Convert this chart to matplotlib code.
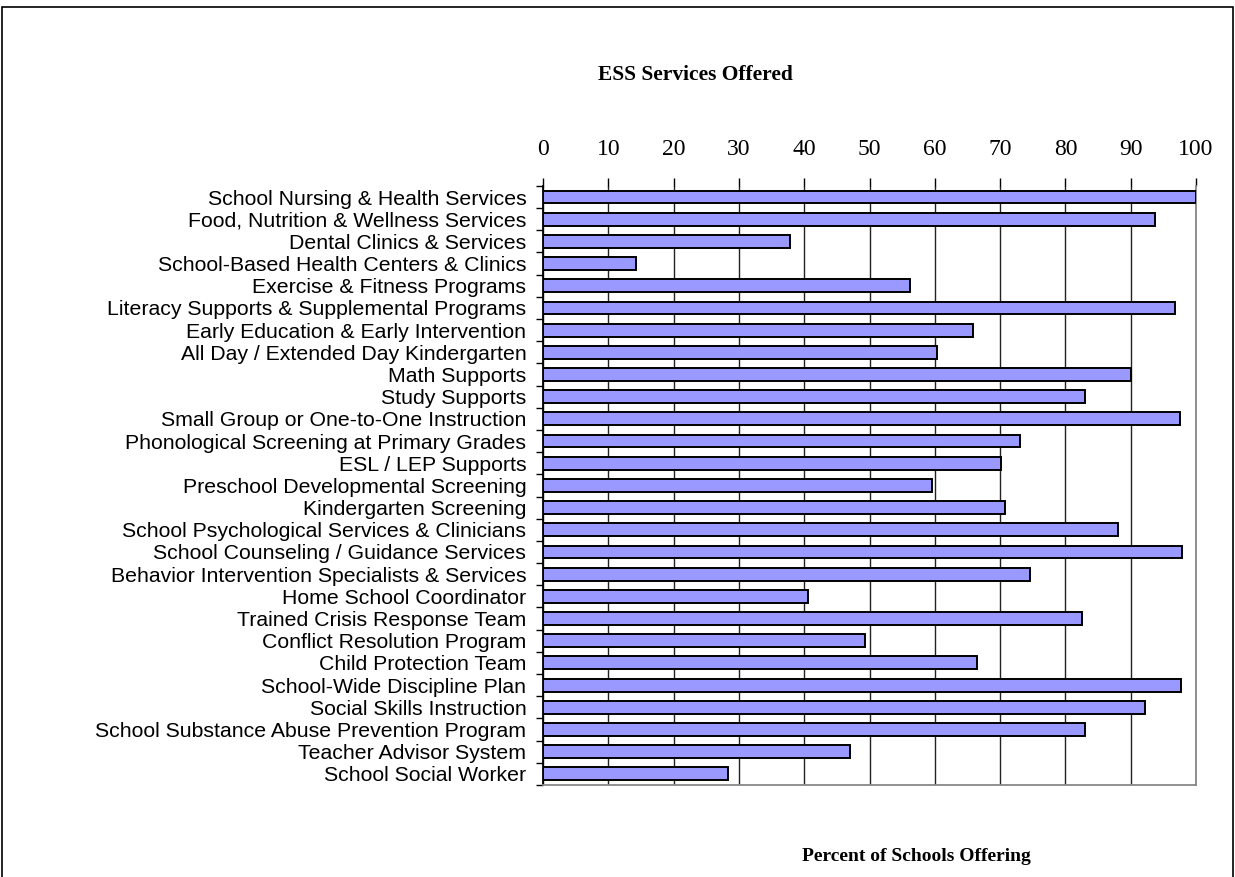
import numpy as np
import matplotlib
matplotlib.use('Agg')
import matplotlib.pyplot as plt
from matplotlib.patches import Rectangle

# Services (top to bottom) and percent of schools offering each
services = [
    'School Nursing & Health Services',
    'Food, Nutrition & Wellness Services',
    'Dental Clinics & Services',
    'School-Based Health Centers & Clinics',
    'Exercise & Fitness Programs',
    'Literacy Supports & Supplemental Programs',
    'Early Education & Early Intervention',
    'All Day / Extended Day Kindergarten',
    'Math Supports',
    'Study Supports',
    'Small Group or One-to-One Instruction',
    'Phonological Screening at Primary Grades',
    'ESL / LEP Supports',
    'Preschool Developmental Screening',
    'Kindergarten Screening',
    'School Psychological Services & Clinicians',
    'School Counseling / Guidance Services',
    'Behavior Intervention Specialists & Services',
    'Home School Coordinator',
    'Trained Crisis Response Team',
    'Conflict Resolution Program',
    'Child Protection Team',
    'School-Wide Discipline Plan',
    'Social Skills Instruction',
    'School Substance Abuse Prevention Program',
    'Teacher Advisor System',
    'School Social Worker',
]
percent = [100.0, 93.7, 37.8, 14.3, 56.2, 96.8, 65.9, 60.3, 90.1, 83.0,
           97.5, 73.0, 70.2, 59.5, 70.8, 88.1, 97.8, 74.6, 40.6, 82.5,
           49.3, 66.4, 97.7, 92.2, 83.0, 47.0, 28.4]
x_ticks = list(range(0, 101, 10))

fig = plt.figure(figsize=(12.35, 8.77), dpi=100)
ax = fig.add_axes([0.4397, 0.105, 0.5287, 0.683])

y = np.arange(len(services))
ax.barh(y, percent, height=0.58, color='#9999FF', edgecolor='black',
        linewidth=1.4, zorder=3)

ax.set_xlim(0, 100)
ax.set_ylim(len(services) - 0.5, -0.5)

# x axis on top
ax.xaxis.tick_top()
ax.set_xticks(x_ticks)
ax.set_xticklabels([str(t) for t in x_ticks], family='Liberation Serif', fontsize=17)
ax.tick_params(axis='x', length=6, width=1, color='black', pad=13)
ax.grid(axis='x', color='#222222', linewidth=1, zorder=1)

# y labels at bars, tick marks between categories
ax.set_yticks(y)
ax.set_yticklabels(services, family='Liberation Sans', fontsize=15.3)
ax.tick_params(axis='y', which='major', length=0, pad=12)
ax.set_yticks(np.arange(len(services) + 1) - 0.5, minor=True)
ax.tick_params(axis='y', which='minor', length=5, width=1, color='black')

ax.spines['top'].set_visible(False)
ax.spines['left'].set_color('black')
ax.spines['right'].set_color('#888888')
ax.spines['bottom'].set_color('#888888')
for s in ['left', 'right', 'bottom']:
    ax.spines[s].set_linewidth(1.3)

fig.text(0.563, 0.914, 'ESS Services Offered', ha='center', va='center',
         family='Liberation Serif', fontweight='bold', fontsize=15.5)
fig.text(0.742, 0.023, 'Percent of Schools Offering', ha='center', va='center',
         family='Liberation Serif', fontweight='bold', fontsize=14)

# outer border
fig.patches.append(Rectangle((0.002, -0.01), 0.996, 1.002, transform=fig.transFigure,
                             fill=False, edgecolor='black', linewidth=1.2))

fig.savefig('out.png', dpi=100)
